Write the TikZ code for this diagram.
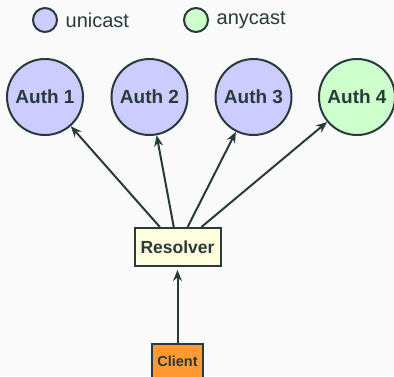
\documentclass[tikz,border=0pt]{standalone}
\usepackage{fontspec}
\setmainfont{Liberation Sans}
\usetikzlibrary{arrows.meta}
\definecolor{ink}{HTML}{283A3A}
\definecolor{uni}{HTML}{CCCCFF}
\definecolor{any}{HTML}{CCFFCC}
\definecolor{paper}{HTML}{FAFAFA}
\definecolor{resfill}{HTML}{FFFFDD}
\definecolor{clifill}{HTML}{FF9933}
\begin{document}
\begin{tikzpicture}[x=1pt,y=-1pt,line width=2pt,draw=ink,text=ink,
		auth/.style={circle,draw,inner sep=0pt,minimum size=76pt,fill=uni,font=\fontsize{19}{19}\selectfont\bfseries},
		key/.style={circle,draw,inner sep=0pt,minimum size=24pt,fill=uni},
		box/.style={draw,inner sep=0pt,font=\bfseries},
		link/.style={-{Stealth[length=11pt,width=9pt]},ink}]
	\useasboundingbox[fill=paper] (0,0) rectangle (394,376);
	% legend
	\node[key] (kuni) at (45,20) {};
	\node[anchor=west,font=\fontsize{20}{20}\selectfont] at (kuni.east) {\,unicast};
	\node[key,fill=any] (kany) at (196,20) {};
	\node[anchor=west,font=\fontsize{20}{20}\selectfont] at (kany.east) {\,anycast};
	% servers
	\node[auth] (a1) at (45,97) {Auth 1};
	\node[auth] (a2) at (149.5,97) {Auth 2};
	\node[auth] (a3) at (253.5,97) {Auth 3};
	\node[auth,fill=any] (a4) at (357,97) {Auth 4};
	\node[box,fill=resfill,minimum width=86pt,minimum height=38pt,font=\fontsize{17.5}{17.5}\selectfont\bfseries] (res) at (177.5,247) {Resolver};
	\node[box,fill=clifill,minimum width=51pt,minimum height=34pt,font=\fontsize{14.5}{14.5}\selectfont\bfseries] (cli) at (177.5,361) {Client};
	\foreach \n in {a1,a2,a3,a4}
		\draw[link] (res) -- (\n);
	\draw[link,shorten >=3pt] (cli) -- (res);
\end{tikzpicture}
\end{document}
